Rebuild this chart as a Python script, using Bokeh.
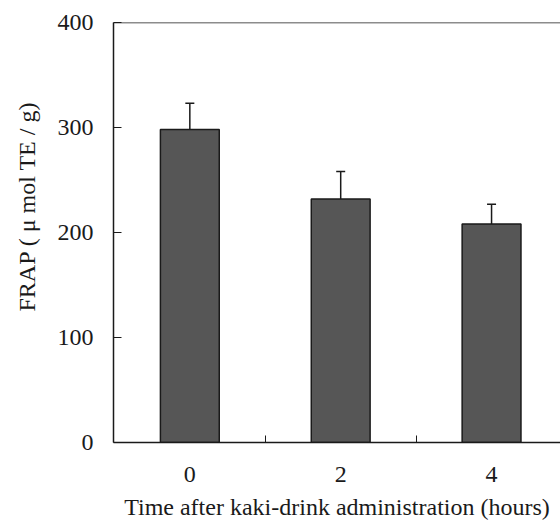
from bokeh.plotting import figure
from bokeh.models import FixedTicker, Span, Whisker, TeeHead, ColumnDataSource, Range1d, Title
from bokeh.embed import file_html
from bokeh.resources import INLINE

# data
times = ["0", "2", "4"]
frap = [298, 232, 208]
frap_err = [25, 26, 19]
y_ticks = [0, 100, 200, 300, 400]
x_title = "Time after kaki-drink administration (hours)"
y_title = "FRAP ( μ mol TE / g)"

FONT = "Liberation Serif"
INK = "#1a1a1a"

pos = list(range(len(times)))
src = ColumnDataSource(dict(
    x=pos,
    top=frap,
    upper=[v + e for v, e in zip(frap, frap_err)],
))

p = figure(width=560, height=522, output_backend="svg", toolbar_location=None,
           x_range=Range1d(-0.506, 2.457), y_range=Range1d(0, 400),
           min_border_left=112, min_border_right=0, min_border_top=22,
           min_border_bottom=80)
p.outline_line_color = None
p.grid.visible = False
p.background_fill_color = "white"
p.border_fill_color = "white"

p.vbar(x="x", top="top", width=0.39, source=src,
       fill_color="#565656", line_color=INK, line_width=1.5)

wh = Whisker(base="x", upper="upper", lower="top", source=src,
             upper_head=TeeHead(size=9, line_width=1.5, line_color=INK),
             lower_head=None, line_width=1.5, line_color=INK)
p.add_layout(wh)

p.add_layout(Span(location=400, dimension="width", line_color=INK, line_width=1.5))

# x axis
xa = p.xaxis[0]
xa.ticker = FixedTicker(ticks=pos, minor_ticks=[0.5, 1.5])
xa.major_label_overrides = {i: t for i, t in enumerate(times)}
xa.major_tick_in = 0
xa.major_tick_out = 0
xa.minor_tick_in = 7
xa.minor_tick_out = 0
xa.minor_tick_line_color = INK
xa.axis_line_color = INK
xa.axis_line_width = 1.5
xa.major_label_text_font = FONT
xa.major_label_text_font_size = "24px"
xa.major_label_text_color = INK
xa.major_label_standoff = 24
xa.axis_label = x_title
xa.axis_label_text_font = FONT
xa.axis_label_text_font_size = "24px"
xa.axis_label_text_font_style = "normal"
xa.axis_label_text_color = INK
xa.axis_label_standoff = 9

# y axis
ya = p.yaxis[0]
ya.ticker = FixedTicker(ticks=y_ticks)
ya.major_tick_in = 8
ya.major_tick_out = 0
ya.minor_tick_in = 0
ya.minor_tick_out = 0
ya.major_tick_line_color = INK
ya.axis_line_color = INK
ya.axis_line_width = 1.5
ya.major_label_text_font = FONT
ya.major_label_text_font_size = "24px"
ya.major_label_text_color = INK
ya.major_label_standoff = 20

p.add_layout(Title(text=y_title, text_font=FONT, text_font_size="24px",
                   text_font_style="normal", text_color=INK,
                   align="left", offset=131, vertical_align="top",
                   standoff=26), "left")

open("out.html", "w").write(file_html(p, INLINE))
